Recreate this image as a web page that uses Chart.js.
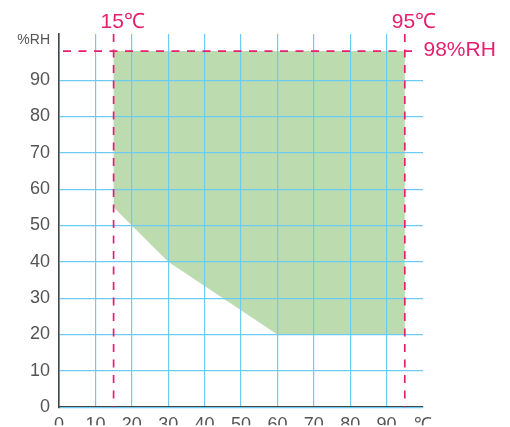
<!DOCTYPE html>
<html>
<head>
<meta charset="utf-8">
<script src="https://cdn.jsdelivr.net/npm/chart.js@4/dist/chart.umd.min.js"></script>
<style>
  html, body { margin: 0; padding: 0; background: #fff; }
  #wrap { width: 510px; height: 427px; position: relative; }
</style>
</head>
<body>
<div id="wrap"><canvas id="chart"></canvas></div>
<script>
// Operating range outline (temperature ℃, humidity %RH)
const zoneTemp = [15, 20, 30, 60, 95, 95, 15];
const zoneRH = [55, 50, 40, 20, 20, 98, 98];

// Limit lines
const tempLimits = [15, 95];
const rhLimit = 98;

// Axis ticks
const xTicks = [0, 10, 20, 30, 40, 50, 60, 70, 80, 90, 100];
const yTicks = [0, 10, 20, 30, 40, 50, 60, 70, 80, 90];

const pink = '#e61f6f';
const gridBlue = '#6ccbf0';
const font = "'Liberation Sans', Arial, sans-serif";

// Draws the dashed limit lines and their labels on top of everything
const limitPlugin = {
  id: 'limits',
  afterDraw(chart) {
    const { ctx, scales: { x, y } } = chart;
    ctx.save();
    ctx.strokeStyle = pink;
    ctx.lineWidth = 1.7;
    ctx.setLineDash([8, 7.5]);

    tempLimits.forEach(t => {
      const px = x.getPixelForValue(t);
      ctx.beginPath();
      ctx.moveTo(px, y.top);
      ctx.lineTo(px, y.bottom);
      ctx.stroke();
    });

    const py = y.getPixelForValue(rhLimit);
    ctx.beginPath();
    ctx.moveTo(x.left + 4, py);
    ctx.lineTo(x.getPixelForValue(98.6), py);
    ctx.stroke();

    ctx.setLineDash([]);
    ctx.fillStyle = pink;
    ctx.font = '21px ' + font;
    ctx.textBaseline = 'alphabetic';
    ctx.textAlign = 'left';
    tempLimits.forEach(t => {
      ctx.fillText(t + '℃', x.getPixelForValue(t) - 13, 28);
    });
    ctx.fillText(rhLimit + '%RH', x.getPixelForValue(100) + 0.5, py + 5);

    // unit label on the y axis
    ctx.fillStyle = '#555';
    ctx.font = '14px ' + font;
    ctx.textAlign = 'right';
    ctx.fillText('%RH', x.left - 9, 44);
    ctx.restore();
  }
};

new Chart(document.getElementById('chart'), {
  type: 'scatter',
  data: {
    datasets: [{
      data: zoneTemp.map((t, i) => ({ x: t, y: zoneRH[i] })),
      showLine: true,
      fill: 'shape',
      backgroundColor: '#bcdcb0',
      borderColor: '#bcdcb0',
      borderWidth: 0,
      pointRadius: 0,
      tension: 0
    }]
  },
  options: {
    responsive: true,
    maintainAspectRatio: false,
    animation: false,
    layout: { padding: { top: 34, right: 87, left: 0, bottom: 0 } },
    plugins: {
      legend: { display: false },
      tooltip: { enabled: false }
    },
    scales: {
      x: {
        type: 'linear',
        position: 'bottom',
        min: 0,
        max: 100,
        afterBuildTicks: s => { s.ticks = xTicks.map(v => ({ value: v })); },
        afterFit: s => { s.height = 18; },
        grid: {
          z: 1,
          color: ctx => (ctx.tick && ctx.tick.value === 100) ? 'rgba(0,0,0,0)' : gridBlue,
          lineWidth: 1.2,
          drawTicks: false
        },
        border: { z: 1, color: '#444', width: 1.6 },
        ticks: {
          autoSkip: false,
          maxRotation: 0,
          padding: 7,
          color: '#555',
          font: { family: font, size: 18 },
          callback: v => v === 100 ? '℃' : v
        }
      },
      y: {
        type: 'linear',
        position: 'left',
        min: 0,
        max: 102.7,
        afterBuildTicks: s => { s.ticks = yTicks.map(v => ({ value: v })); },
        afterFit: s => { s.width = 59; },
        grid: {
          z: 1,
          color: gridBlue,
          lineWidth: 1.2,
          drawTicks: false
        },
        border: { z: 1, color: '#444', width: 1.6 },
        ticks: {
          padding: 9,
          color: '#555',
          font: { family: font, size: 18 }
        }
      }
    }
  },
  plugins: [limitPlugin]
});
</script>
</body>
</html>
